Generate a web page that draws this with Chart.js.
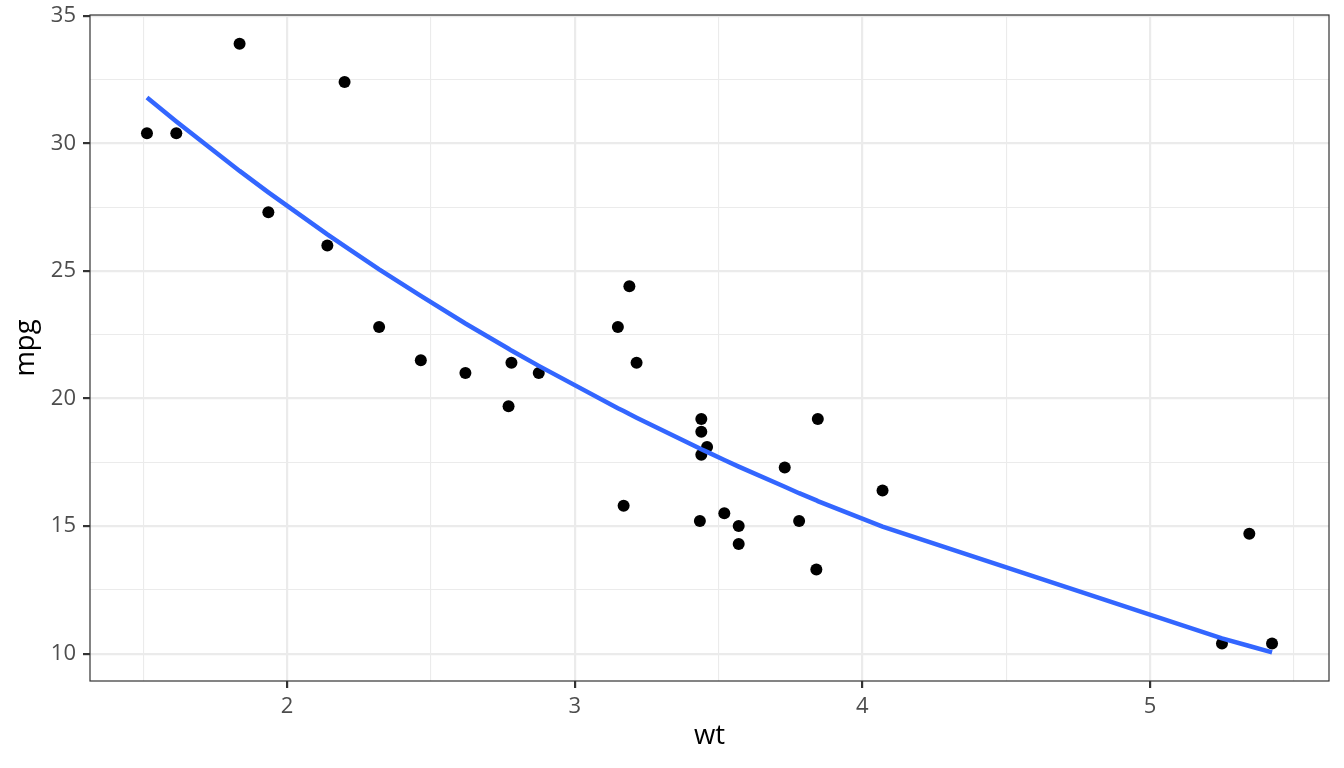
<!DOCTYPE html>
<html>
<head>
<meta charset="utf-8">
<script src="https://cdn.jsdelivr.net/npm/chart.js@4/dist/chart.umd.min.js"></script>
<style>
  html, body { margin: 0; padding: 0; background: #fff; }
  #wrap { width: 1344px; height: 768px; }
</style>
</head>
<body>
<div id="wrap"><canvas id="chart" width="1344" height="768"></canvas></div>
<script>
// ── data (mtcars) ──
const wt  = [2.620, 2.875, 2.320, 3.215, 3.440, 3.460, 3.570, 3.190, 3.150, 3.440, 3.440,
             4.070, 3.730, 3.780, 5.250, 5.424, 5.345, 2.200, 1.615, 1.835, 2.465, 3.520,
             3.435, 3.840, 3.845, 1.935, 2.140, 1.513, 3.170, 2.770, 3.570, 2.780];
const mpg = [21.0, 21.0, 22.8, 21.4, 18.7, 18.1, 14.3, 24.4, 22.8, 19.2, 17.8,
             16.4, 17.3, 15.2, 10.4, 10.4, 14.7, 32.4, 30.4, 33.9, 21.5, 15.5,
             15.2, 13.3, 19.2, 27.3, 26.0, 30.4, 15.8, 19.7, 15.0, 21.4];

// fitted curve at each distinct wt
const fitWt  = [1.513, 1.615, 1.835, 1.935, 2.140, 2.200, 2.320, 2.465, 2.620, 2.770,
                2.780, 2.875, 3.150, 3.170, 3.190, 3.215, 3.435, 3.440, 3.460, 3.520,
                3.570, 3.730, 3.780, 3.840, 3.845, 4.070, 5.250, 5.345, 5.424];
const fitMpg = [31.80, 30.86, 28.92, 28.08, 26.43, 25.97, 25.06, 24.02, 22.94, 21.95,
                21.88, 21.28, 19.62, 19.51, 19.39, 19.25, 18.04, 18.01, 17.91, 17.59,
                17.33, 16.54, 16.29, 16.01, 15.98, 14.98, 10.60, 10.30, 10.05];

// axes
const xRange = [1.315, 5.622];
const yRange = [8.93, 35.03];
const xTicks = [1.5, 2, 2.5, 3, 3.5, 4, 4.5, 5, 5.5];
const xMajor = [2, 3, 4, 5];
const yTicks = [10, 12.5, 15, 17.5, 20, 22.5, 25, 27.5, 30, 32.5, 35];
const yMajor = [10, 15, 20, 25, 30, 35];

const FONT = '"Open Sans", "Noto Sans", sans-serif';
const isMajor = (list, v) => list.some(m => Math.abs(m - v) < 1e-9);

// panel border like theme_bw
const panelBorder = {
  id: 'panelBorder',
  afterDraw(chart) {
    const { ctx, chartArea: a } = chart;
    ctx.save();
    ctx.strokeStyle = '#333333';
    ctx.lineWidth = 1.2;
    ctx.strokeRect(a.left, a.top, a.right - a.left, a.bottom - a.top);
    ctx.restore();
  }
};

function gridOpts(major) {
  return {
    color: '#EBEBEB',
    lineWidth: c => isMajor(major, c.tick.value) ? 2.2 : 1.1,
    tickColor: c => isMajor(major, c.tick.value) ? '#333333' : 'rgba(0,0,0,0)',
    tickWidth: 2.2,
    tickLength: 7,
    drawTicks: true,
  };
}

new Chart(document.getElementById('chart'), {
  type: 'scatter',
  data: {
    datasets: [
      {
        type: 'line',
        data: fitWt.map((x, i) => ({ x, y: fitMpg[i] })),
        borderColor: '#3366FF',
        borderWidth: 4.5,
        pointRadius: 0,
        tension: 0,
        fill: false,
        order: 0,
      },
      {
        data: wt.map((x, i) => ({ x, y: mpg[i] })),
        backgroundColor: '#000000',
        borderWidth: 0,
        pointRadius: 6,
        order: 1,
      },
    ],
  },
  options: {
    responsive: false,
    animation: false,
    devicePixelRatio: 1,
    layout: { padding: { top: 15, right: 15, left: 0, bottom: 0 } },
    plugins: { legend: { display: false }, tooltip: { enabled: false } },
    scales: {
      x: {
        type: 'linear',
        min: xRange[0], max: xRange[1],
        afterBuildTicks: s => { s.ticks = xTicks.map(v => ({ value: v })); },
        afterFit: s => { s.height = 87; s.paddingLeft = 0; s.paddingRight = 0; },
        grid: gridOpts(xMajor),
        border: { display: false },
        ticks: {
          autoSkip: false, maxRotation: 0, padding: 6,
          color: '#4D4D4D', font: { family: FONT, size: 22 },
          callback: v => isMajor(xMajor, v) ? String(v) : '',
        },
        title: {
          display: true, text: 'wt', color: '#000000',
          font: { family: FONT, size: 27.5 },
          padding: { top: 0, bottom: 15 },
        },
      },
      y: {
        type: 'linear',
        min: yRange[0], max: yRange[1],
        afterBuildTicks: s => { s.ticks = yTicks.map(v => ({ value: v })); },
        afterFit: s => { s.width = 90; s.paddingTop = 0; s.paddingBottom = 0; },
        grid: gridOpts(yMajor),
        border: { display: false },
        ticks: {
          autoSkip: false, padding: 7,
          color: '#4D4D4D', font: { family: FONT, size: 22 },
          callback: v => isMajor(yMajor, v) ? String(v) : '',
        },
        title: {
          display: true, text: 'mpg', color: '#000000',
          font: { family: FONT, size: 27.5 },
          padding: { top: 10, bottom: 0 },
        },
      },
    },
  },
  plugins: [panelBorder],
});
</script>
</body>
</html>
